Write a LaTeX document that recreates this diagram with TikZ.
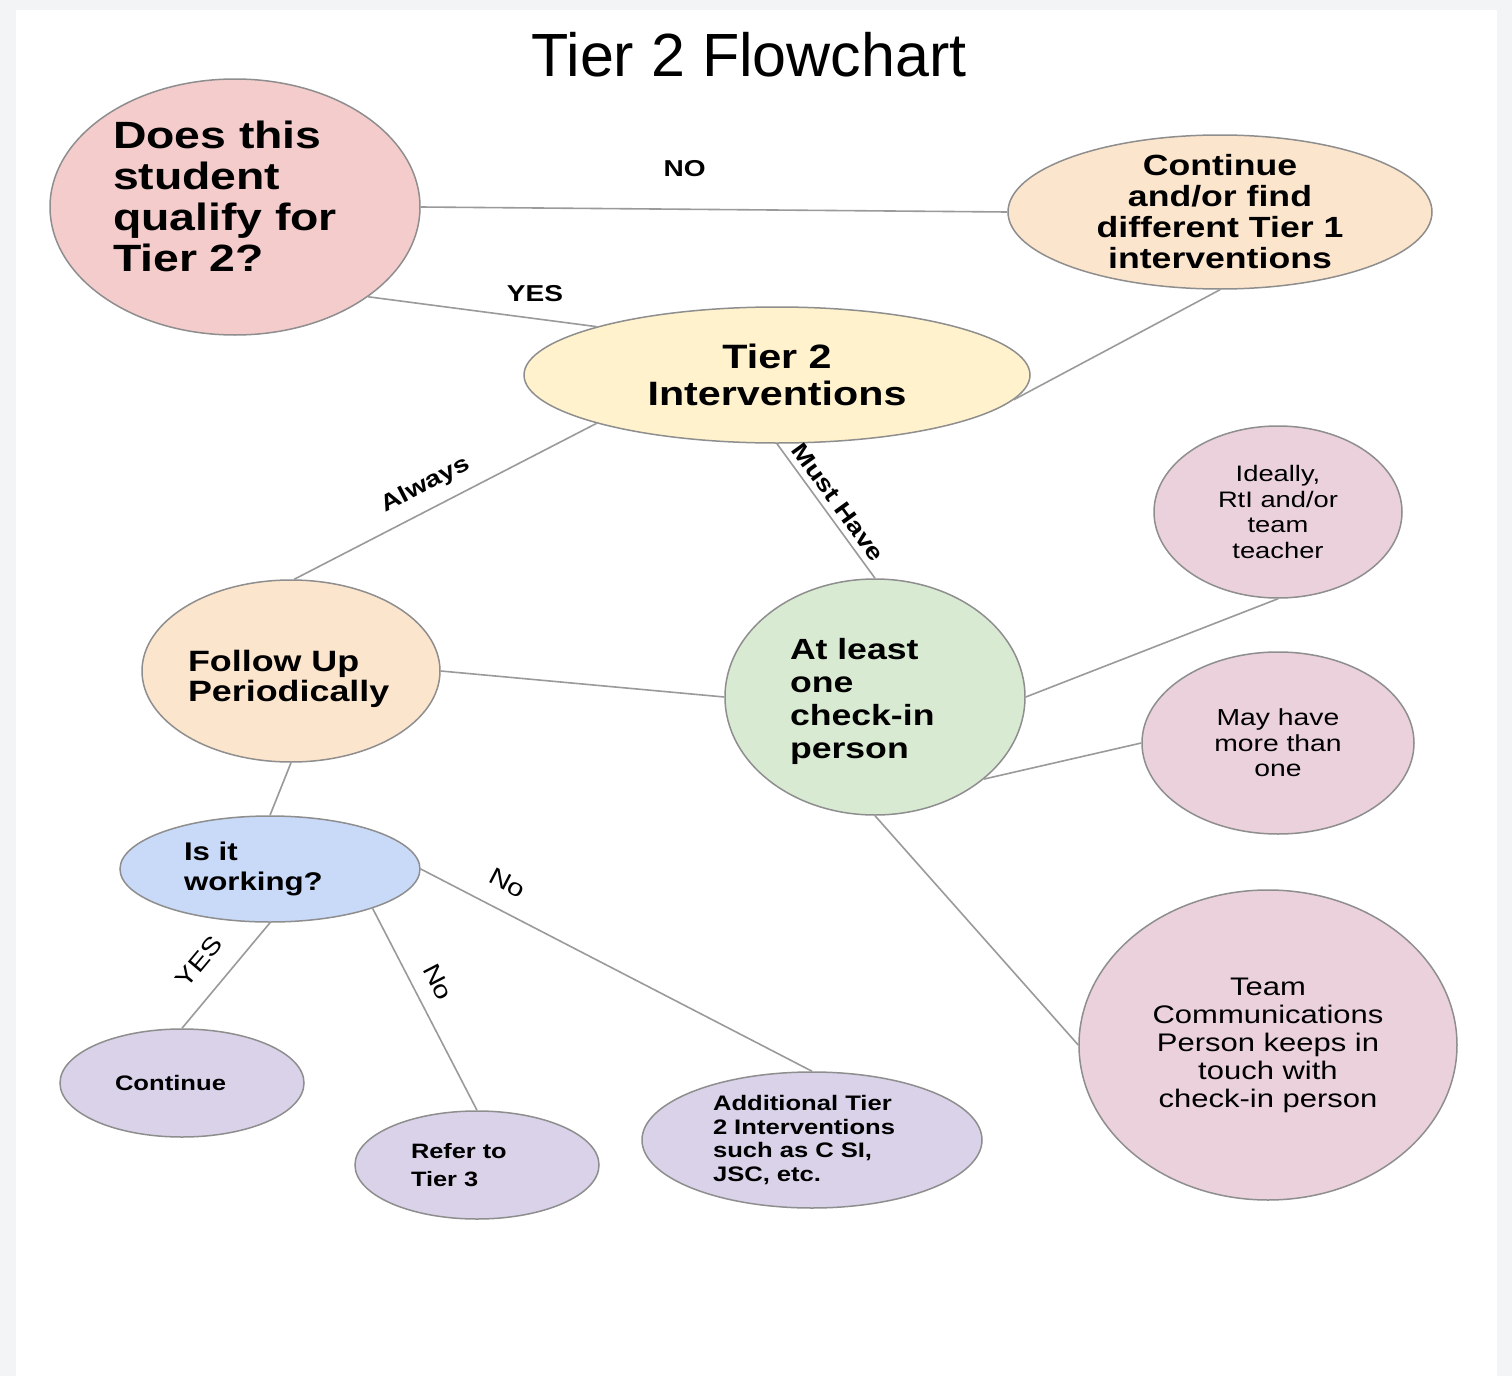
\documentclass[tikz,border=0pt]{standalone}
\usepackage{fontspec}
\setmainfont[FakeStretch=1.22]{Liberation Sans}
\newfontfamily\titlefont{Liberation Sans}
\usetikzlibrary{shapes.geometric}
\definecolor{framegray}{HTML}{F3F4F6}
\definecolor{rimgray}{HTML}{8E8E8E}
\definecolor{linkgray}{HTML}{9A9A9A}
\definecolor{qpink}{HTML}{F4CCCC}
\definecolor{peach}{HTML}{FCE5CD}
\definecolor{cream}{HTML}{FFF2CC}
\definecolor{mint}{HTML}{D9EAD3}
\definecolor{mauve}{HTML}{EAD1DC}
\definecolor{skyblue}{HTML}{C9DAF8}
\definecolor{lilac}{HTML}{D9D2E9}
\begin{document}
\begin{tikzpicture}[x=0.5pt,y=-0.5pt,
		bubble/.style={ellipse,draw=rimgray,line width=0.75pt,inner sep=0pt},
		link/.style={draw=linkgray,line width=0.8pt},
		lbl/.style={font=\bfseries\fontsize{11.5}{12}\selectfont,inner sep=1pt},
		lblr/.style={font=\fontsize{12}{13}\selectfont,inner sep=1pt}]
		\fill[framegray] (0,0) rectangle (1512,1376);
		\fill[white] (16,10) rectangle (1497,1376);
		\useasboundingbox (0,0) rectangle (1512,1376);
		\node (title) at (749,55) {\titlefont\fontsize{30.5}{32}\selectfont Tier 2 Flowchart};
		\node [bubble,fill=qpink,minimum width=185pt,minimum height=128pt,text width=122pt,text depth=72pt,align=left,font=\bfseries\fontsize{19}{20.5}\selectfont] (q) at (235,207) {Does this\\student\\qualify for\\Tier 2?};
		\node [bubble,fill=peach,minimum width=212pt,minimum height=77pt,inner ysep=-10pt,align=center,font=\bfseries\fontsize{14.6}{15.5}\selectfont] (cont1) at (1220,212) {Continue\\and/or find\\different Tier 1\\interventions};
		\node [bubble,fill=cream,minimum width=253pt,minimum height=68pt,align=center,font=\bfseries\fontsize{16.9}{18.5}\selectfont] (t2) at (777,375) {Tier 2\\Interventions};
		\node [bubble,fill=peach,minimum width=149pt,minimum height=91pt,text width=103pt,text height=19pt,align=left,font=\bfseries\fontsize{14.7}{15}\selectfont] (follow) at (291,671) {Follow Up\\Periodically};
		\node [bubble,fill=mint,minimum width=150pt,minimum height=118pt,text width=85pt,text height=15pt,align=left,font=\bfseries\fontsize{14.6}{16.5}\selectfont] (check) at (875,697) {At least\\one\\check-in\\person};
		\node [bubble,fill=mauve,minimum width=124pt,minimum height=86pt,align=center,font=\fontsize{11.2}{12.75}\selectfont] (ideal) at (1278,512) {Ideally,\\RtI and/or\\team\\teacher};
		\node [bubble,fill=mauve,minimum width=136pt,minimum height=91pt,align=center,font=\fontsize{11.6}{12.75}\selectfont] (more) at (1278,743) {May have\\more than\\one};
		\node [bubble,fill=mauve,minimum width=189pt,minimum height=155pt,align=center,font=\fontsize{12.7}{14}\selectfont] (team) at (1268,1045) {Team\\Communications\\Person keeps in\\touch with\\check-in person};
		\node [bubble,fill=skyblue,minimum width=150pt,minimum height=53pt,text width=86pt,align=left,font=\bfseries\fontsize{12.8}{15}\selectfont] (work) at (270,869) {Is it\\working?};
		\node [bubble,fill=lilac,minimum width=122pt,minimum height=54pt,text width=67pt,align=left,font=\bfseries\fontsize{10.5}{12}\selectfont] (contin) at (182,1083) {Continue};
		\node [bubble,fill=lilac,minimum width=122pt,minimum height=54pt,text width=66pt,align=left,font=\bfseries\fontsize{10.4}{14}\selectfont] (refer) at (477,1165) {Refer to\\Tier 3};
		\node [bubble,fill=lilac,minimum width=170pt,minimum height=68pt,text width=99pt,align=left,font=\bfseries\fontsize{10.5}{11.75}\selectfont] (addl) at (812,1140) {Additional Tier\\2 Interventions\\such as C SI,\\JSC, etc.};
		\draw [link] (q.0) -- node [lbl,above=15pt,pos=.45] {NO} (cont1.180);
		\draw [link] (q.-34.4) -- node [lbl,above=7pt,pos=.73] {YES} (t2.165);
		\draw [link] (cont1.-90) -- (t2.-6);
		\draw [link] (t2.195) -- node [lbl,sloped,above=5pt,pos=.53] {Always} (follow.88);
		\draw [link] (t2.-90) -- node [lbl,sloped,above=2pt,pos=.5] {Must Have} (check.90);
		\draw [link] (follow.0) -- (check.180);
		\draw [link] (check.0) -- (ideal.-90);
		\draw [link] (check.-37) -- (more.180);
		\draw [link] (check.-90) -- (team.180);
		\draw [link] (follow.-90) -- (work.90);
		\draw [link] (work.-90) -- node [lblr,sloped,above=9pt,pos=.55] {YES} (contin.90);
		\draw [link] (work.-21) -- node [lblr,sloped,above=6.5pt,pos=.42] {No} (refer.90);
		\draw [link] (work.0) -- node [lblr,sloped,above=8pt,pos=.19] {No} (addl.90);
\end{tikzpicture}
\end{document}
